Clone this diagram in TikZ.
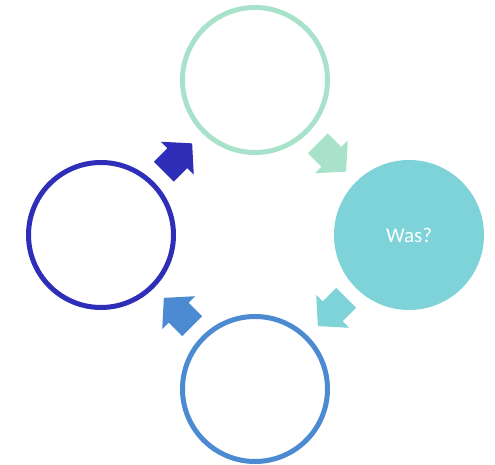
\documentclass[tikz,border=0pt]{standalone}
\usepackage{fontspec}
\setmainfont{Carlito}
\usetikzlibrary{calc}

\definecolor{mint}{HTML}{A8E2CA}
\definecolor{aqua}{HTML}{7DD3D8}
\definecolor{midblue}{HTML}{4C8AD2}
\definecolor{darkblue}{HTML}{2E2EB8}

% block arrow halfway between two circle centres
\newcommand{\cyclearrow}[4]{%
  \begin{scope}[shift={($(#1)!0.5!(#2)$)}, rotate=#3]
    \fill[#4] (-20,-14) -- (-1,-14) -- (-1,-23.3) -- (20,0)
      -- (-1,23.3) -- (-1,14) -- (-20,14) -- cycle;
  \end{scope}
}

\begin{document}
\begin{tikzpicture}[x=1pt, y=1pt,
    ring/.style={circle, draw, line width=5pt, minimum size=145pt, inner sep=0pt},
    disc/.style={circle, minimum size=150pt, inner sep=0pt}]
  \useasboundingbox (0,0) rectangle (495,465);

  \node[ring, draw=mint] (top) at (255,385) {}; % top circle
  \node[disc, fill=aqua, text=white, font=\fontsize{21}{24}\selectfont]
    (right) at (409,230) {Was?}; % filled circle
  \node[ring, draw=midblue] (bottom) at (255,76) {}; % bottom circle
  \node[ring, draw=darkblue] (left) at (101,230) {}; % left circle

  % arrows of the cycle
  \cyclearrow{left}{top}{45}{darkblue}
  \cyclearrow{top}{right}{-45}{mint}
  \cyclearrow{right}{bottom}{-135}{aqua}
  \cyclearrow{bottom}{left}{135}{midblue}
\end{tikzpicture}
\end{document}
